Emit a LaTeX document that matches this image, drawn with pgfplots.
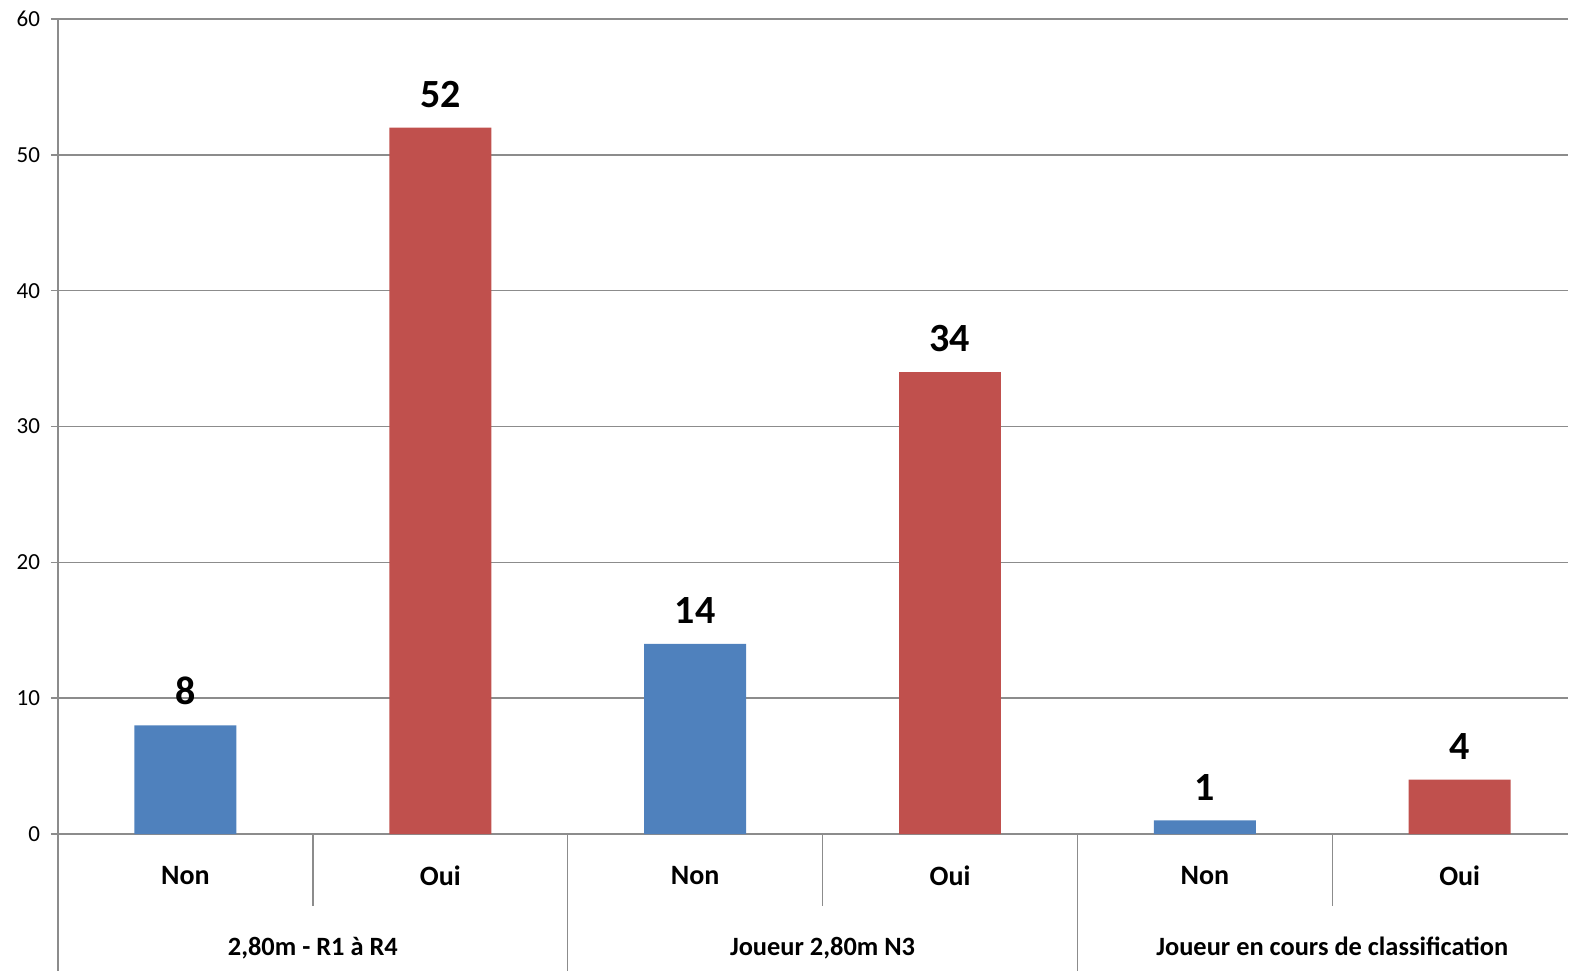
\documentclass[border=0pt]{standalone}
\usepackage{fontspec}
\setmainfont{Carlito}
\usepackage{pgfplots}
\pgfplotsset{compat=1.18}
\definecolor{barblue}{HTML}{4F81BD}
\definecolor{barred}{HTML}{C0504D}
\definecolor{gridgray}{HTML}{8C8C8C}
\begin{document}
\begin{tikzpicture}
\useasboundingbox (0,0) rectangle (785pt,485.5pt);
\begin{axis}[
  at={(29pt,68.5pt)}, anchor=south west,
  scale only axis, width=755pt, height=407.5pt,
  xmin=-0.5, xmax=5.425, ymin=0, ymax=60,
  ytick={0,10,...,60},
  ymajorgrids, major grid style={gridgray, line width=0.75pt},
  axis x line*=bottom, axis y line*=left,
  axis line style={gridgray, line width=0.75pt, -},
  tick align=outside, major tick length=3.5pt,
  ytick style={gridgray, line width=0.75pt},
  xtick={0,...,5}, xticklabels={Non,Oui,Non,Oui,Non,Oui},
  xtick style={draw=none},
  xticklabel style={font=\fontsize{14}{16}\selectfont\bfseries, anchor=center, yshift=-17.5pt},
  yticklabel style={font=\fontsize{11.5}{13}\selectfont, xshift=-2pt},
  /pgf/number format/assume math mode=true,
  ybar, bar width=0.4,
  nodes near coords,
  nodes near coords style={font=\fontsize{20}{24}\selectfont\bfseries, black, anchor=south, inner sep=0pt, yshift=10pt},
  clip=false,
]
\addplot[fill=barblue, draw=none, bar shift=0] coordinates {(0,8) (2,14) (4,1)};
\addplot[fill=barred, draw=none, bar shift=0] coordinates {(1,52) (3,34) (5,4)};
\draw[gridgray, line width=0.75pt] (axis cs:0.5,0) -- ([yshift=-36pt]axis cs:0.5,0);
\draw[gridgray, line width=0.75pt] (axis cs:2.5,0) -- ([yshift=-36pt]axis cs:2.5,0);
\draw[gridgray, line width=0.75pt] (axis cs:4.5,0) -- ([yshift=-36pt]axis cs:4.5,0);
\draw[gridgray, line width=0.75pt] (axis cs:-0.5,0) -- ([yshift=-68.5pt]axis cs:-0.5,0);
\draw[gridgray, line width=0.75pt] (axis cs:1.5,0) -- ([yshift=-68.5pt]axis cs:1.5,0);
\draw[gridgray, line width=0.75pt] (axis cs:3.5,0) -- ([yshift=-68.5pt]axis cs:3.5,0);
\node[font=\fontsize{13.2}{15}\selectfont\bfseries, anchor=base] at ([yshift=-60.5pt]axis cs:0.5,0) {2,80m - R1 à R4};
\node[font=\fontsize{13.2}{15}\selectfont\bfseries, anchor=base] at ([yshift=-60.5pt]axis cs:2.5,0) {Joueur 2,80m N3};
\node[font=\fontsize{13.2}{15}\selectfont\bfseries, anchor=base] at ([yshift=-60.5pt]axis cs:4.5,0) {Joueur en cours de classification};
\end{axis}
\end{tikzpicture}
\end{document}
